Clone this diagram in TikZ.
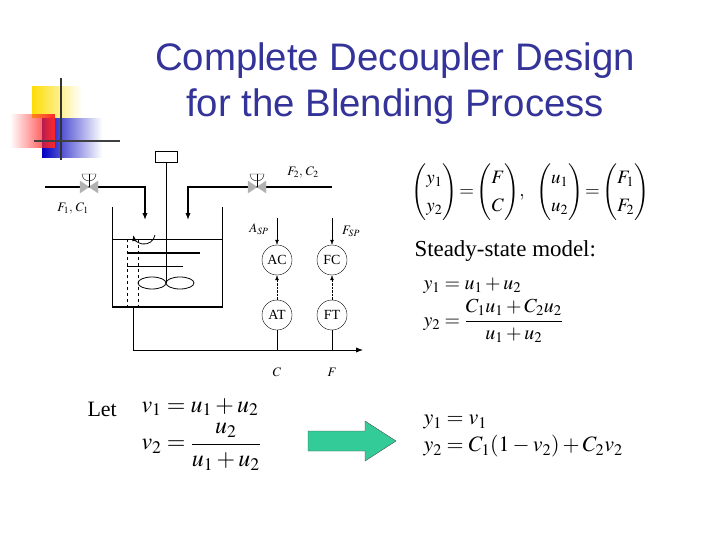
\documentclass[tikz,border=0pt]{standalone}
\usepackage{amsmath}
\usepackage{fontspec}
\usepackage{mathptmx}
\setmainfont{Liberation Serif}
\newfontfamily\titlefont{Liberation Sans}
\usetikzlibrary{positioning,arrows.meta,fadings}
\definecolor{titleblue}{RGB}{51,51,153}
\definecolor{arrowgreen}{RGB}{51,204,153}
\tikzset{
  pipe/.style={line width=1.1pt},
  ctrl/.style={circle,draw,thin,minimum size=30bp,inner sep=0pt,font=\fontsize{14}{14}\selectfont},
  lab/.style={font=\fontsize{13}{13}\selectfont},
  sig/.style={densely dotted,-{Latex[length=5pt]}},
  setp/.style={thin,-{Latex[length=5pt]}},
  valve/.style={fill=gray!60,draw=gray!60}
}
\begin{document}
\begin{tikzpicture}[x=1bp,y=-1bp]
        \useasboundingbox (0,0) rectangle (720,540);
        % corner decoration
        \fill[yellow!80!orange,path fading=east] (32,86) rectangle (82,118);
        \fill[blue!75!black,path fading=east] (42,118) rectangle (102,158);
        \fill[red!85,path fading=west] (10,114) rectangle (55,148);
        \draw[line width=2pt,black!80] (61,78) -- (61,160);
        \draw[line width=1.6pt,black!75] (34,141) -- (120,141);
        % title
        \node[titleblue,font=\titlefont\fontsize{38.5}{46}\selectfont,align=center] (title) at (395,84)
        {Complete Decoupler Design\\for the Blending Process};
        % tank
        \draw[thick] (112,207) -- (112,307) -- (222,307) -- (222,207);
        \draw[line width=1.6pt] (112,307) -- (222,307);
        \draw[thin] (112,239) -- (222,239);
        \draw[dashed] (127,239) -- (127,307) (138,239) -- (138,307);
        \draw[line width=1.4pt] (127,253) -- (200,253);
        \draw[thin] (127,266) -- (183,266);
        \node[draw,thick,minimum width=22bp,minimum height=11bp,inner sep=0pt] (motor) at (166,157) {};
        \draw[thick] (motor.south) -- (166,283);
        \draw[thick] (152,283) ellipse (14 and 6) (180,283) ellipse (14 and 6);
        \draw[thick,-{Latex[length=6pt]}] (155,235) arc (10:170:11);
        % inlet streams
        \coordinate (in1) at (45,187);
        \coordinate (in2) at (332,187);
        \draw[pipe,-{Latex[length=7pt]}] (in1) -- (145,187) -- (145,220);
        \draw[pipe,-{Latex[length=7pt]}] (in2) -- (188,187) -- (188,220);
        \foreach \vx/\vn in {89/vone,257/vtwo}{
          \fill[valve] (\vx-9,181) -- (\vx-9,193) -- (\vx+9,181) -- (\vx+9,193) -- cycle;
          \draw[thin] (\vx,187) -- (\vx,174);
          \draw[thin] (\vx-7,174) -- (\vx+7,174) arc (0:180:7);
        }
        \node[lab] (fc1) at (73,208) {$F_1,\,C_1$};
        \node[lab] (fc2) at (303,172) {$F_2,\,C_2$};
        % outlet
        \coordinate (out) at (363,350);
        \draw[thick,-{Latex[length=7pt]}] (133,307) -- (133,350) -- (out);
        % controllers
        \node[ctrl] (AC) at (277,260) {AC};
        \node[ctrl] (AT) at (277,315) {AT};
        \node[ctrl] (FC) at (332,260) {FC};
        \node[ctrl] (FT) at (332,315) {FT};
        \draw[sig] (AT) -- (AC);
        \draw[sig] (FT) -- (FC);
        \draw[thin] (AT.south) -- (277,350);
        \draw[thin] (FT.south) -- (332,350);
        \coordinate (asp) at (277,218);
        \coordinate (fsp) at (332,218);
        \draw[setp] (asp) -- (AC);
        \draw[setp] (fsp) -- (FC);
        \node[lab] (asplab) at (259,229) {$A_{SP}$};
        \node[lab] (fsplab) at (351,231) {$F_{SP}$};
        \node[lab] (clab) at (277,372) {$C$};
        \node[lab] (flab) at (332,372) {$F$};
        % equations
        \node[anchor=west,font=\fontsize{19}{19}\selectfont] (vec) at (408,192)
        {\renewcommand{\arraystretch}{1.45}$\begin{pmatrix}y_1\\y_2\end{pmatrix}\!=\!\begin{pmatrix}F\\C\end{pmatrix}\!,\ \ 
          \begin{pmatrix}u_1\\u_2\end{pmatrix}\!=\!\begin{pmatrix}F_1\\F_2\end{pmatrix}$};
        \node[anchor=west,font=\fontsize{23}{23}\selectfont] (ssm) at (411,251) {Steady-state model:};
        \node[anchor=north west,font=\fontsize{20}{20}\selectfont] (model) at (420,272)
        {$\begin{aligned} y_1&=u_1+u_2\\ y_2&=\frac{C_1u_1+C_2u_2}{u_1+u_2}\end{aligned}$};
        \node[anchor=west,font=\fontsize{22}{22}\selectfont] (let) at (84,409) {Let};
        \node[anchor=north west,font=\fontsize{24}{24}\selectfont] (defs) at (138,392)
        {$\begin{aligned} v_1&=u_1+u_2\\ v_2&=\frac{u_2}{u_1+u_2}\end{aligned}$};
        \draw[black!70,fill=arrowgreen] (308,431) -- (365,431) -- (365,421) -- (396,441)
          -- (365,461) -- (365,451) -- (308,451) -- cycle;
        \node[anchor=north west,font=\fontsize{22}{22}\selectfont] (res) at (420,406)
        {$\begin{aligned} y_1&=v_1\\ y_2&=C_1(1-v_2)+C_2v_2\end{aligned}$};
\end{tikzpicture}
\end{document}
